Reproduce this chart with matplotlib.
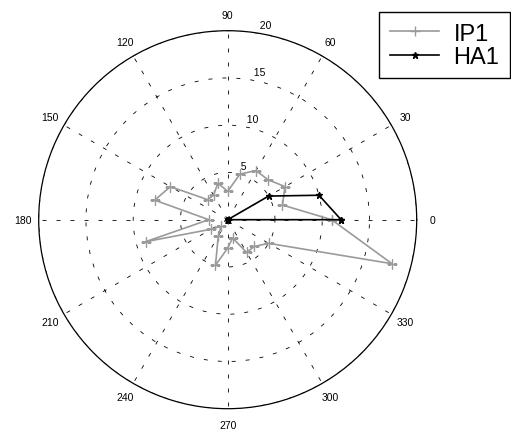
import numpy as np
import matplotlib
matplotlib.use('Agg')
import matplotlib.pyplot as plt

plt.rcParams['font.family'] = ['Liberation Sans', 'DejaVu Sans']

# angles in degrees, 15 degree steps
angles_deg = [0, 15, 30, 45, 60, 75, 90, 105, 120, 135, 150, 165,
              180, 195, 210, 225, 240, 255, 270, 285, 300, 315, 330, 345]
ip1 = [11, 6, 7, 6, 6, 5, 3, 4, 3, 3, 7, 8,
       2, 9, 2, 1, 2, 5, 3, 2, 4, 4, 5, 18]
ha1 = [12, 10, 5, 0, 0, 0, 0, 0, 0, 0, 0, 0,
       0, 0, 0, 0, 0, 0, 0, 0, 0, 0, 0, 0]
ring_values = [5, 10, 15, 20]
spoke_angles = list(range(0, 360, 30))
rmax = 20

W, H = 511, 431
fig = plt.figure(figsize=(W / 100, H / 100), dpi=100)
cx, cy, rad = 227.7, 220.7, 189.0   # centre in pixels from top-left
ax = fig.add_axes([(cx - rad) / W, (H - cy - rad) / H, 2 * rad / W, 2 * rad / H],
                  projection='polar')

dash = (0, (4.8, 12))
ax.set_thetagrids(spoke_angles, labels=[])
ax.set_rgrids(ring_values, labels=[])
ax.set_ylim(0, rmax)
ax.grid(True, color='black', linewidth=0.6, linestyle=dash)
ax.tick_params(length=0)
ax.spines['polar'].set_linewidth(0.9)
ax.spines['polar'].set_color('black')

# close the polygons
th = np.radians(angles_deg + [angles_deg[0]])
ip1_c = ip1 + [ip1[0]]
ha1_c = ha1 + [ha1[0]]

l1, = ax.plot(th, ip1_c, color='#9a9a9a', linewidth=1.2, marker='+',
              markersize=6.5, markeredgewidth=1.0, label='IP1')
l2, = ax.plot(th, ha1_c, color='black', linewidth=1.2, marker='*',
              markersize=5, label='HA1')

# angle labels like MATLAB, just outside the outer circle
for a in spoke_angles:
    ax.text(np.radians(a), 21.7, str(a), ha='center', va='center',
            fontsize=7.5, color='black')

# range labels at 82 degrees
for r in ring_values:
    ax.text(np.radians(82), r + 0.25, '  ' + str(r), ha='left', va='bottom',
            fontsize=7.5, color='black')

leg = fig.legend(handles=[l1, l2], loc='upper right',
                 bbox_to_anchor=(510 / W, 1 - 13 / H), fontsize=17,
                 frameon=True, fancybox=False, framealpha=1, edgecolor='black',
                 borderaxespad=0, handlelength=2.1, numpoints=1,
                 borderpad=0.45, labelspacing=0.05, handletextpad=0.6)
leg.get_frame().set_linewidth(1.0)

fig.savefig('out.png', dpi=100)
